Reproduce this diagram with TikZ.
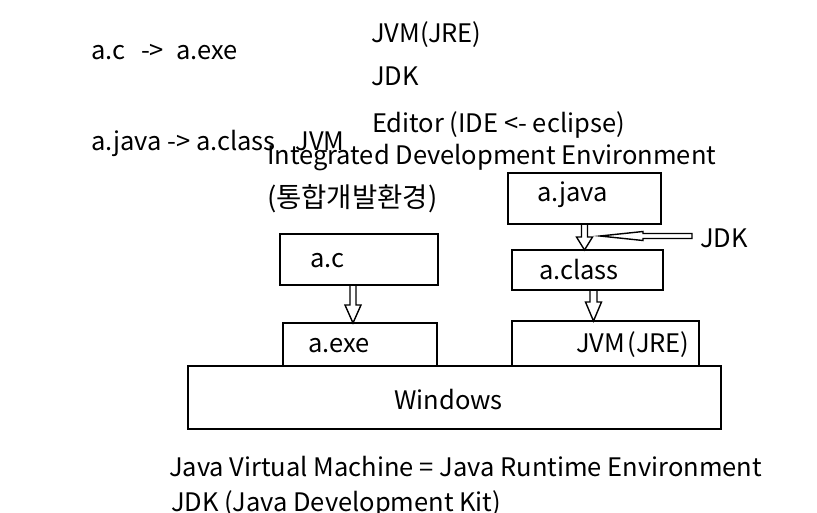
\documentclass[tikz,border=0pt]{standalone}
\usepackage{fontspec}
\setmainfont{Noto Sans CJK KR}
\usetikzlibrary{calc}
\tikzset{
  box/.style={draw, line width=1.6pt, inner sep=0pt, outer sep=0pt, rectangle},
  txt/.style={inner sep=0pt, outer sep=0pt, anchor=base west, font=\fontsize{25.5}{30}\selectfont},
  blockarrow/.style={draw, line width=1.4pt, line join=miter}
}
\newcommand\downblock[4]{% start point, end point, shaft half width, head length
  \draw[blockarrow] let \p1=(#1), \p2=(#2) in
    (\x1-#3,\y1) -- (\x1-#3,\y2+#4) -- (\x1-8pt,\y2+#4) -- (\x1,\y2)
    -- (\x1+8pt,\y2+#4) -- (\x1+#3,\y2+#4) -- (\x1+#3,\y1);}
\begin{document}
\begin{tikzpicture}[x=1pt,y=-1pt]
\fill[white] (0,0) rectangle (817,512);
\useasboundingbox (0,0) rectangle (817,512);

% top texts
\node[txt] (t1) at (91,59) {a.c\hspace{16pt}->\hspace{12pt}a.exe};
\node[txt] (t2) at (371,42) {JVM(JRE)};
\node[txt] (t3) at (371,85) {JDK};
\node[txt] (t4) at (372,132) {Editor (IDE <- eclipse)};
\node[txt] (t5) at (91,150) {a.java -> a.class\hspace{20pt}JVM};
\node[txt] (t6) at (267,164) {Integrated Development Environment};
\node[txt, font=\fontsize{27.5}{30}\selectfont] (t7) at (267,207) {(통합개발환경)};

% boxes
\node[box, anchor=north west, minimum width=153, minimum height=51] (ajava) at (508,173) {};
\node[box, anchor=north west, minimum width=151, minimum height=40] (aclass) at (512,250) {};
\node[box, anchor=north west, minimum width=187, minimum height=45] (jvm) at (512,321) {};
\node[box, anchor=north west, minimum width=158, minimum height=51] (ac) at (280,234) {};
\node[box, anchor=north west, minimum width=154, minimum height=43] (aexe) at (283,323) {};
\node[box, anchor=north west, minimum width=533, minimum height=63] (win) at (188,366) {};

% box labels
\node[txt] (lajava) at ($(ajava.north west)+(29,28)$) {a.java};
\node[txt] (laclass) at ($(aclass.north west)+(27,29)$) {a.class};
\node[txt] (ljvm) at ($(jvm.north west)+(64,31)$) {JVM\hspace{3pt}(JRE)};
\node[txt] (lac) at ($(ac.north west)+(30,33)$) {a.c};
\node[txt] (laexe) at ($(aexe.north west)+(25,29)$) {a.exe};
\node[txt, anchor=base] (lwin) at ($(win.north)+(-6,43)$) {Windows};
\node[txt] (ljdk) at (700,247) {JDK};

% arrows
\downblock{$(ac.south)+(-6,0)$}{aexe.north}{3pt}{18pt}
\downblock{$(ajava.south)+(0,0)$}{aclass.north}{3pt}{13pt}
\downblock{$(aclass.south)+(6,0)$}{jvm.north}{3.5pt}{19pt}

\coordinate (jdktail) at (692,236);
\coordinate (jdktip) at (600,236);
\draw[blockarrow] let \p1=(jdktail), \p2=(jdktip) in
  (\x1,\y1+2.5pt) -- (\x2+43pt,\y1+2.5pt) -- (\x2+43pt,\y1+4.5pt) -- (\x2,\y2)
  -- (\x2+43pt,\y1-4.5pt) -- (\x2+43pt,\y1-2.5pt) -- (\x1,\y1-2.5pt) -- cycle;

% bottom texts
\node[txt] (b1) at (169,476) {Java Virtual Machine = Java Runtime Environment};
\node[txt] (b2) at (171,511) {JDK (Java Development Kit)};
\end{tikzpicture}
\end{document}
